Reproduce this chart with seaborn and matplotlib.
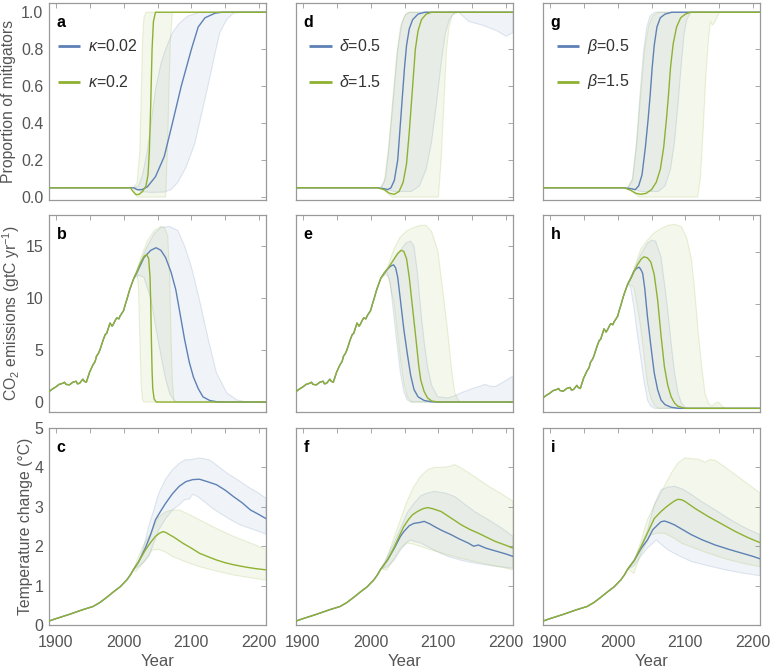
import numpy as np
import pandas as pd
import seaborn as sns
import matplotlib.pyplot as plt
from matplotlib.lines import Line2D
from matplotlib.ticker import MultipleLocator

BLUE = '#5e81b5'
GREEN = '#8fb131'

# shared history (year, value)
hist_prop = [(1890, 0.05), (2008, 0.05)]
hist_emis = [(1890, 1.0), (1895, 1.25), (1900, 1.45), (1905, 1.7), (1910, 1.8), (1913, 1.9),
             (1915, 1.7), (1920, 1.65), (1923, 1.8), (1925, 1.9), (1930, 2.0), (1932, 1.75),
             (1935, 1.8), (1940, 2.2), (1942, 2.0), (1945, 1.9), (1947, 2.3), (1950, 2.9),
             (1955, 3.6), (1958, 3.9), (1960, 4.4), (1963, 4.7), (1965, 5.0), (1968, 5.6),
             (1970, 6.0), (1973, 6.5), (1975, 6.6), (1977, 7.0), (1980, 7.6), (1983, 7.3),
             (1985, 7.5), (1988, 7.9), (1990, 8.1), (1993, 8.0), (1995, 8.3), (2000, 8.8),
             (2003, 9.5), (2005, 9.9), (2008, 10.6), (2010, 11.0)]
hist_temp = [(1890, 0.1), (1900, 0.16), (1920, 0.27), (1940, 0.39), (1955, 0.47),
             (1965, 0.57), (1975, 0.7), (1985, 0.84), (1995, 0.97), (2005, 1.15), (2010, 1.27)]

# panel a: proportion of mitigators, kappa
a_blue = [(2015, 0.05), (2020, 0.04), (2027, 0.04), (2035, 0.055), (2047, 0.11), (2060, 0.22),
          (2072, 0.4), (2085, 0.6), (2100, 0.8), (2110, 0.92), (2120, 0.97), (2135, 0.995), (2145, 1.0), (2210, 1.0)]
a_blue_hi = [(2015, 0.05), (2022, 0.06), (2028, 0.12), (2035, 0.25), (2047, 0.58), (2055, 0.72),
             (2062, 0.8), (2072, 0.89), (2082, 0.94), (2095, 0.98), (2112, 1.0), (2210, 1.0)]
a_blue_lo = [(2015, 0.05), (2025, 0.03), (2040, 0.025), (2060, 0.027), (2070, 0.04), (2080, 0.08),
             (2092, 0.16), (2105, 0.29), (2115, 0.45), (2125, 0.61), (2135, 0.78), (2142, 0.89),
             (2152, 0.96), (2162, 0.995), (2175, 1.0), (2210, 1.0)]
a_green = [(2010, 0.05), (2014, 0.03), (2018, 0.013), (2023, 0.015), (2028, 0.03), (2033, 0.06),
           (2036, 0.12), (2038, 0.25), (2040, 0.5), (2042, 0.8), (2044, 0.95), (2047, 1.0), (2210, 1.0)]
a_green_hi = [(2015, 0.05), (2020, 0.08), (2024, 0.25), (2026, 0.55), (2028, 0.85), (2030, 0.97),
              (2033, 1.0), (2210, 1.0)]
a_green_lo = [(2015, 0.04), (2020, 0.0), (2062, 0.0), (2065, 0.3), (2067, 0.6), (2069, 0.85),
              (2072, 1.0), (2210, 1.0)]

# panel b: emissions, kappa
b_blue = [(2015, 11.9), (2020, 12.5), (2025, 13.2), (2030, 13.9), (2040, 14.6), (2048, 14.85),
          (2055, 14.6), (2062, 13.9), (2070, 12.5), (2077, 10.8), (2083, 8.6), (2090, 6.0),
          (2097, 3.8), (2103, 2.4), (2110, 1.3), (2117, 0.5), (2127, 0.15), (2137, 0.03), (2150, 0.0), (2210, 0.0)]
b_blue_hi = [(2015, 11.9), (2025, 13.5), (2035, 15.0), (2045, 16.2), (2055, 16.8), (2068, 16.9),
             (2080, 16.5), (2090, 15.0), (2100, 13.0), (2112, 9.8), (2125, 6.0), (2137, 2.8),
             (2152, 0.9), (2167, 0.2), (2182, 0.0), (2210, 0.0)]
b_blue_lo = [(2015, 11.9), (2022, 12.2), (2030, 12.0), (2040, 10.0), (2048, 7.0), (2055, 4.5),
             (2062, 2.2), (2068, 0.8), (2075, 0.1), (2082, 0.0), (2210, 0.0)]
b_green = [(2015, 11.9), (2020, 12.6), (2025, 13.4), (2030, 14.0), (2034, 14.2), (2037, 13.8),
           (2039, 12.0), (2040, 9.5), (2041, 6.0), (2042, 3.0), (2043, 1.3), (2045, 0.3), (2048, 0.0), (2210, 0.0)]
b_green_hi = [(2015, 11.9), (2025, 13.8), (2035, 15.5), (2045, 16.5), (2055, 16.9), (2060, 16.8),
              (2065, 16.0), (2068, 12.0), (2070, 6.0), (2072, 2.0), (2074, 0.3), (2076, 0.0), (2210, 0.0)]
b_green_lo = [(2015, 11.9), (2020, 12.3), (2022, 11.0), (2024, 6.0), (2026, 1.5), (2028, 0.2),
              (2030, 0.0), (2210, 0.0)]

# panel c: temperature, kappa
c_blue = [(2015, 1.42), (2022, 1.6), (2032, 1.95), (2040, 2.3), (2047, 2.67), (2055, 2.9), (2062, 3.09),
          (2072, 3.33), (2082, 3.52), (2092, 3.64), (2102, 3.69), (2112, 3.7), (2125, 3.63), (2137, 3.56),
          (2150, 3.42), (2162, 3.26), (2175, 3.1), (2187, 2.92), (2200, 2.8), (2210, 2.7)]
c_blue_hi = [(2015, 1.42), (2022, 1.57), (2030, 2.0), (2037, 2.5), (2045, 2.95), (2052, 3.35), (2062, 3.7),
             (2072, 3.94), (2082, 4.1), (2090, 4.19), (2100, 4.2), (2112, 4.24), (2127, 4.19), (2140, 4.02),
             (2152, 3.86), (2167, 3.7), (2182, 3.52), (2197, 3.37), (2210, 3.22)]
c_blue_lo = [(2015, 1.42), (2022, 1.48), (2030, 1.6), (2037, 1.74), (2045, 2.1), (2052, 2.42), (2062, 2.7),
             (2072, 2.92), (2082, 3.05), (2090, 3.18), (2097, 3.2), (2102, 3.32), (2110, 3.25), (2122, 3.09),
             (2132, 2.95), (2142, 2.84), (2157, 2.68), (2172, 2.54), (2192, 2.42), (2210, 2.31)]
c_green = [(2015, 1.42), (2022, 1.6), (2032, 1.9), (2040, 2.1), (2047, 2.25), (2053, 2.33), (2058, 2.37),
           (2062, 2.35), (2075, 2.22), (2087, 2.08), (2100, 1.95), (2112, 1.82), (2125, 1.73), (2137, 1.65),
           (2150, 1.58), (2162, 1.53), (2180, 1.47), (2195, 1.43), (2210, 1.4)]
c_green_hi = [(2015, 1.42), (2022, 1.74), (2030, 2.05), (2037, 2.25), (2045, 2.5), (2052, 2.75), (2062, 2.87),
              (2072, 2.92), (2082, 2.92), (2095, 2.82), (2112, 2.67), (2137, 2.45), (2162, 2.25),
              (2187, 2.08), (2210, 1.92)]
c_green_lo = [(2015, 1.4), (2018, 1.36), (2030, 1.6), (2042, 1.9), (2052, 1.92), (2062, 1.85), (2072, 1.74),
              (2092, 1.6), (2112, 1.48), (2137, 1.37), (2162, 1.27), (2187, 1.2), (2210, 1.14)]

# panel d: proportion, delta
d_blue = [(2010, 0.05), (2020, 0.045), (2025, 0.04), (2030, 0.05), (2035, 0.09), (2040, 0.2), (2044, 0.4),
          (2047, 0.55), (2050, 0.7), (2053, 0.82), (2057, 0.91), (2062, 0.96), (2070, 0.99), (2080, 1.0), (2210, 1.0)]
d_blue_hi = [(2015, 0.05), (2022, 0.1), (2028, 0.3), (2034, 0.55), (2040, 0.8), (2046, 0.94),
             (2052, 0.99), (2058, 1.0), (2210, 1.0)]
d_blue_lo = [(2015, 0.05), (2025, 0.04), (2035, 0.03), (2060, 0.03), (2072, 0.06), (2082, 0.15),
             (2090, 0.3), (2097, 0.5), (2104, 0.72), (2110, 0.88), (2116, 0.96), (2122, 0.99), (2130, 1.0),
             (2145, 0.95), (2165, 0.93), (2186, 0.9), (2200, 0.87), (2210, 0.89)]
d_green = [(2010, 0.05), (2020, 0.04), (2028, 0.02), (2035, 0.015), (2042, 0.03), (2048, 0.08), (2053, 0.18),
           (2057, 0.35), (2060, 0.5), (2063, 0.65), (2066, 0.8), (2070, 0.9), (2075, 0.96), (2082, 0.99),
           (2090, 1.0), (2210, 1.0)]
d_green_hi = [(2015, 0.05), (2020, 0.08), (2026, 0.25), (2032, 0.5), (2038, 0.75), (2044, 0.92),
              (2050, 0.98), (2056, 1.0), (2210, 1.0)]
d_green_lo = [(2015, 0.05), (2025, 0.02), (2032, 0.0), (2100, 0.0), (2104, 0.2), (2108, 0.5),
              (2112, 0.8), (2116, 0.93), (2120, 0.98), (2125, 1.0), (2210, 1.0)]

# panel e: emissions, delta
e_blue = [(2015, 11.9), (2020, 12.4), (2025, 12.8), (2030, 13.1), (2034, 13.2), (2037, 12.9), (2040, 12.0),
          (2044, 9.8), (2049, 7.0), (2054, 4.7), (2059, 2.6), (2064, 1.2), (2070, 0.5), (2079, 0.15),
          (2090, 0.02), (2100, 0.0), (2210, 0.0)]
e_blue_hi = [(2015, 11.9), (2025, 12.8), (2035, 13.8), (2044, 14.6), (2052, 15.3), (2059, 15.5),
             (2064, 15.0), (2069, 12.5), (2074, 8.8), (2079, 5.8), (2084, 3.4), (2090, 1.6), (2099, 0.5),
             (2114, 0.4), (2124, 0.6), (2134, 0.9), (2150, 1.3), (2160, 1.5), (2169, 1.7), (2177, 1.5),
             (2184, 1.5), (2195, 1.9), (2210, 2.5)]
e_blue_lo = [(2015, 11.9), (2024, 12.5), (2029, 11.4), (2034, 8.5), (2039, 5.5), (2044, 2.8),
             (2049, 1.0), (2054, 0.2), (2060, 0.0), (2210, 0.0)]
e_green = [(2015, 11.9), (2020, 12.4), (2025, 12.8), (2030, 13.3), (2035, 13.8), (2040, 14.3), (2045, 14.6),
           (2049, 14.5), (2053, 13.8), (2057, 12.0), (2062, 9.0), (2067, 6.0), (2071, 3.5), (2074, 2.1),
           (2079, 1.0), (2084, 0.4), (2090, 0.1), (2100, 0.0), (2210, 0.0)]
e_green_hi = [(2015, 11.9), (2025, 13.0), (2035, 14.8), (2044, 15.9), (2054, 16.5), (2064, 16.8),
              (2074, 17.0), (2082, 17.0), (2090, 16.4), (2099, 14.6), (2106, 11.0), (2114, 6.6),
              (2120, 2.8), (2124, 0.9), (2130, 0.1), (2135, 0.0), (2210, 0.0)]
e_green_lo = [(2015, 11.9), (2022, 12.3), (2027, 12.0), (2031, 10.5), (2034, 9.8), (2039, 7.0),
              (2044, 4.1), (2049, 1.8), (2054, 0.5), (2060, 0.0), (2210, 0.0)]

# panel f: temperature, delta
f_blue = [(2015, 1.42), (2025, 1.65), (2035, 1.95), (2044, 2.25), (2049, 2.37), (2057, 2.52), (2064, 2.58),
          (2072, 2.6), (2079, 2.63), (2087, 2.57), (2094, 2.5), (2105, 2.4), (2119, 2.29), (2130, 2.19),
          (2144, 2.08), (2152, 2.0), (2159, 2.03), (2170, 1.95), (2184, 1.88), (2200, 1.8), (2210, 1.74)]
f_blue_hi = [(2015, 1.42), (2025, 1.75), (2035, 2.1), (2044, 2.45), (2054, 2.85), (2064, 3.09), (2074, 3.28),
             (2084, 3.35), (2094, 3.39), (2110, 3.35), (2124, 3.26), (2140, 3.05), (2155, 2.86),
             (2174, 2.67), (2194, 2.45), (2210, 2.25)]
f_blue_lo = [(2015, 1.42), (2025, 1.48), (2035, 1.65), (2044, 1.9), (2052, 2.08), (2059, 2.16), (2065, 2.12),
             (2074, 2.08), (2094, 1.9), (2114, 1.74), (2134, 1.64), (2154, 1.57), (2180, 1.5), (2210, 1.44)]
f_green = [(2015, 1.42), (2025, 1.65), (2035, 1.98), (2044, 2.32), (2049, 2.5), (2056, 2.68), (2062, 2.8),
           (2069, 2.88), (2077, 2.95), (2084, 2.98), (2092, 2.95), (2104, 2.88), (2119, 2.71), (2134, 2.54),
           (2147, 2.42), (2159, 2.33), (2172, 2.22), (2184, 2.12), (2200, 2.02), (2210, 1.95)]
f_green_hi = [(2015, 1.42), (2019, 1.45), (2030, 2.0), (2044, 2.67), (2054, 3.15), (2064, 3.52), (2074, 3.78),
              (2084, 3.94), (2094, 4.0), (2105, 4.0), (2115, 4.02), (2124, 4.07), (2134, 3.98), (2154, 3.76),
              (2174, 3.52), (2194, 3.32), (2210, 3.14)]
f_green_lo = [(2015, 1.42), (2024, 1.4), (2035, 1.7), (2044, 1.95), (2054, 2.08), (2064, 2.05), (2074, 1.99),
              (2094, 1.88), (2114, 1.78), (2134, 1.69), (2154, 1.61), (2184, 1.5), (2210, 1.4)]

# panel g: proportion, beta
g_blue = [(2010, 0.05), (2020, 0.045), (2026, 0.04), (2031, 0.06), (2036, 0.12), (2041, 0.27), (2045, 0.42),
          (2048, 0.55), (2051, 0.7), (2054, 0.82), (2058, 0.92), (2063, 0.97), (2070, 0.99), (2080, 1.0), (2210, 1.0)]
g_blue_hi = [(2015, 0.05), (2022, 0.1), (2028, 0.3), (2033, 0.55), (2038, 0.78), (2043, 0.92),
             (2048, 0.98), (2055, 1.0), (2210, 1.0)]
g_blue_lo = [(2015, 0.05), (2025, 0.04), (2035, 0.03), (2060, 0.03), (2070, 0.06), (2078, 0.15),
             (2084, 0.3), (2089, 0.5), (2094, 0.72), (2098, 0.88), (2102, 0.96), (2108, 1.0), (2210, 1.0)]
g_green = [(2010, 0.05), (2020, 0.035), (2027, 0.02), (2034, 0.015), (2042, 0.02), (2050, 0.04), (2057, 0.08),
           (2063, 0.15), (2068, 0.27), (2072, 0.42), (2075, 0.55), (2078, 0.7), (2082, 0.83), (2087, 0.92),
           (2093, 0.97), (2100, 0.99), (2108, 1.0), (2210, 1.0)]
g_green_hi = [(2015, 0.05), (2022, 0.09), (2028, 0.28), (2034, 0.55), (2040, 0.8), (2046, 0.93),
              (2052, 0.98), (2060, 1.0), (2210, 1.0)]
g_green_lo = [(2015, 0.05), (2025, 0.02), (2032, 0.0), (2118, 0.0), (2122, 0.1), (2126, 0.35),
              (2130, 0.65), (2134, 0.85), (2137, 0.95), (2140, 0.93), (2144, 0.95), (2150, 1.0), (2210, 1.0)]

# panel h: emissions, beta
h_blue = [(2015, 11.9), (2020, 12.5), (2024, 13.1), (2028, 13.4), (2032, 13.5), (2035, 13.2), (2037, 12.9),
          (2040, 11.5), (2044, 8.8), (2049, 6.0), (2054, 3.4), (2059, 1.8), (2064, 0.8), (2070, 0.35),
          (2079, 0.1), (2090, 0.0), (2210, 0.0)]
h_blue_hi = [(2015, 11.9), (2024, 13.2), (2034, 14.7), (2044, 15.8), (2050, 16.1), (2056, 16.0), (2064, 14.5),
             (2069, 12.0), (2074, 9.4), (2079, 6.2), (2084, 3.4), (2089, 1.5), (2094, 0.5), (2100, 0.1),
             (2105, 0.0), (2210, 0.0)]
h_blue_lo = [(2015, 11.9), (2019, 11.6), (2024, 9.7), (2029, 7.2), (2034, 4.9), (2039, 2.6), (2044, 0.8),
             (2049, 0.2), (2055, 0.0), (2210, 0.0)]
h_green = [(2015, 11.9), (2020, 12.5), (2025, 13.2), (2030, 13.8), (2035, 14.3), (2039, 14.5), (2044, 14.4),
           (2049, 14.0), (2054, 12.8), (2059, 10.4), (2064, 7.0), (2069, 4.0), (2074, 2.2), (2079, 1.1),
           (2084, 0.5), (2089, 0.2), (2100, 0.0), (2210, 0.0)]
h_green_hi = [(2015, 11.9), (2024, 13.3), (2034, 15.2), (2044, 16.1), (2054, 16.8), (2064, 17.2), (2074, 17.5),
              (2084, 17.6), (2094, 17.4), (2102, 16.3), (2109, 14.2), (2114, 11.0), (2119, 7.2), (2124, 4.0),
              (2129, 1.4), (2134, 0.5), (2139, 0.2), (2144, 0.5), (2149, 0.6), (2154, 0.2), (2160, 0.0), (2210, 0.0)]
h_green_lo = [(2015, 11.9), (2019, 11.8), (2024, 11.6), (2029, 9.8), (2034, 7.8), (2039, 5.0), (2044, 2.4),
              (2049, 1.0), (2054, 0.3), (2060, 0.0), (2210, 0.0)]

# panel i: temperature, beta
i_blue = [(2015, 1.42), (2025, 1.65), (2035, 1.95), (2044, 2.16), (2052, 2.42), (2059, 2.54), (2064, 2.62),
          (2069, 2.64), (2076, 2.6), (2084, 2.54), (2096, 2.42), (2109, 2.29), (2125, 2.16), (2144, 2.03),
          (2164, 1.92), (2184, 1.82), (2200, 1.74), (2210, 1.68)]
i_blue_hi = [(2015, 1.42), (2024, 1.65), (2034, 2.0), (2044, 2.4), (2054, 3.05), (2064, 3.43), (2074, 3.5),
             (2084, 3.52), (2096, 3.45), (2109, 3.31), (2125, 3.12), (2144, 2.92), (2164, 2.7), (2184, 2.5),
             (2210, 2.29)]
i_blue_lo = [(2015, 1.42), (2024, 1.5), (2034, 1.74), (2044, 1.95), (2052, 2.08), (2057, 2.16), (2064, 2.05),
             (2074, 1.91), (2090, 1.76), (2109, 1.61), (2134, 1.5), (2159, 1.4), (2184, 1.32), (2210, 1.25)]
i_green = [(2015, 1.42), (2025, 1.65), (2035, 2.0), (2044, 2.33), (2054, 2.7), (2064, 2.88), (2072, 3.0),
           (2079, 3.09), (2084, 3.15), (2089, 3.19), (2094, 3.18), (2099, 3.14), (2115, 2.95), (2134, 2.75),
           (2154, 2.56), (2174, 2.37), (2192, 2.22), (2210, 2.09)]
i_green_hi = [(2015, 1.42), (2024, 1.6), (2034, 2.1), (2044, 2.67), (2056, 3.1), (2069, 3.52), (2079, 3.85),
              (2089, 4.11), (2099, 4.24), (2109, 4.22), (2119, 4.21), (2129, 4.13), (2136, 4.2), (2144, 4.18),
              (2159, 4.0), (2174, 3.81), (2192, 3.58), (2210, 3.35)]
i_green_lo = [(2015, 1.42), (2024, 1.31), (2034, 1.8), (2049, 2.29), (2059, 2.33), (2069, 2.33), (2084, 2.2),
              (2094, 2.08), (2114, 1.95), (2134, 1.82), (2159, 1.68), (2184, 1.57), (2210, 1.48)]

legend_labels = {
    'a': [r'$\kappa$=0.02', r'$\kappa$=0.2'],
    'd': [r'$\delta$=0.5', r'$\delta$=1.5'],
    'g': [r'$\beta$=0.5', r'$\beta$=1.5'],
}
legend_x = {'a': 0.04, 'd': 0.06, 'g': 0.063}
ylabels = ['Proportion of mitigators', r'CO$_2$ emissions (gtC yr$^{-1}$)', 'Temperature change (°C)']
ylabel_x = [-0.152, -0.124, -0.074]
ylims = [(-0.016, 1.05), (-0.96, 18.0), (0, 5)]

TXT = '#555555'


def band(ax, hi, lo, color):
    xs = [p[0] for p in hi] + [p[0] for p in lo[::-1]]
    ys = [p[1] for p in hi] + [p[1] for p in lo[::-1]]
    ax.fill(xs, ys, facecolor=color, alpha=0.09, edgecolor='none', zorder=1)
    ax.fill(xs, ys, facecolor='none', edgecolor=color, alpha=0.18, lw=0.8, zorder=1)


def line(ax, hist, fut, color):
    df = pd.DataFrame(hist + fut, columns=['Year', 'value'])
    sns.lineplot(data=df, x='Year', y='value', ax=ax, color=color, linewidth=1.0,
                 estimator=None, sort=False, zorder=3)


sns.set_theme(style='white')
plt.rcParams['font.family'] = ['Liberation Sans', 'DejaVu Sans']
plt.rcParams['mathtext.fontset'] = 'custom'
plt.rcParams['mathtext.rm'] = 'Liberation Sans'
plt.rcParams['mathtext.it'] = 'Liberation Sans:italic'
plt.rcParams['mathtext.bf'] = 'Liberation Sans:bold'

fig, axes = plt.subplots(3, 3, figsize=(7.72, 6.68), dpi=100)

panels = [
    ['a', 'd', 'g'],
    ['b', 'e', 'h'],
    ['c', 'f', 'i'],
]
data = {
    'a': (hist_prop, a_blue, a_blue_hi, a_blue_lo, a_green, a_green_hi, a_green_lo),
    'b': (hist_emis, b_blue, b_blue_hi, b_blue_lo, b_green, b_green_hi, b_green_lo),
    'c': (hist_temp, c_blue, c_blue_hi, c_blue_lo, c_green, c_green_hi, c_green_lo),
    'd': (hist_prop, d_blue, d_blue_hi, d_blue_lo, d_green, d_green_hi, d_green_lo),
    'e': (hist_emis, e_blue, e_blue_hi, e_blue_lo, e_green, e_green_hi, e_green_lo),
    'f': (hist_temp, f_blue, f_blue_hi, f_blue_lo, f_green, f_green_hi, f_green_lo),
    'g': (hist_prop, g_blue, g_blue_hi, g_blue_lo, g_green, g_green_hi, g_green_lo),
    'h': (hist_emis, h_blue, h_blue_hi, h_blue_lo, h_green, h_green_hi, h_green_lo),
    'i': (hist_temp, i_blue, i_blue_hi, i_blue_lo, i_green, i_green_hi, i_green_lo),
}

col_left = [49, 296, 543]
row_top = [3, 215, 428]
W, H = 772, 668

for r in range(3):
    for c in range(3):
        ax = axes[r, c]
        key = panels[r][c]
        ax.set_position([col_left[c] / W, 1 - (row_top[r] + 197) / H, 217 / W, 197 / H])
        hist, bl, bl_hi, bl_lo, gr, gr_hi, gr_lo = data[key]
        band(ax, bl_hi, bl_lo, BLUE)
        band(ax, gr_hi, gr_lo, GREEN)
        line(ax, hist, bl, BLUE)
        line(ax, hist, gr, GREEN)

        ax.set_xlim(1890, 2210)
        ylo, yhi = ylims[r]
        if key == 'h':
            ylo, yhi = -0.35, 18.5
        ax.set_ylim(ylo, yhi)
        ax.xaxis.set_major_locator(MultipleLocator(100))
        ax.xaxis.set_minor_locator(MultipleLocator(50))
        if r == 0:
            ax.yaxis.set_major_locator(MultipleLocator(0.2))
            ax.yaxis.set_major_formatter(plt.FormatStrFormatter('%.1f'))
        elif r == 1:
            ax.yaxis.set_major_locator(MultipleLocator(5))
        else:
            ax.yaxis.set_major_locator(MultipleLocator(1))
        ax.tick_params(which='both', direction='in', top=True, right=True, length=3.5,
                       width=0.6, color='#999999', labelcolor=TXT, labelsize=11.5)
        ax.tick_params(axis='y', pad=4)
        ax.tick_params(axis='x', pad=7)
        for s in ax.spines.values():
            s.set_color('#999999')
            s.set_linewidth(0.9)

        if c == 0:
            ax.set_ylabel(ylabels[r], fontsize=11.3, color=TXT)
            ax.yaxis.set_label_coords(ylabel_x[r], 0.5)
        else:
            ax.set_ylabel('')
            ax.tick_params(labelleft=False)
        if r == 2:
            ax.set_xlabel('Year', fontsize=12, color=TXT, labelpad=3)
        else:
            ax.set_xlabel('')
            ax.tick_params(labelbottom=False)

        ax.text(0.035, 0.9, key, transform=ax.transAxes, fontsize=11.5, fontweight='bold',
                color='black', va='center', ha='left')

        if key in legend_labels:
            x0 = legend_x[key]
            for yy, col, lab in zip([0.78, 0.60], [BLUE, GREEN], legend_labels[key]):
                ax.add_line(Line2D([x0, x0 + 0.105], [yy, yy], transform=ax.transAxes,
                                   color=col, lw=2, solid_capstyle='butt'))
                ax.text(x0 + 0.14, yy, lab, transform=ax.transAxes, fontsize=11.5,
                        color='#333333', va='center', ha='left')

fig.savefig('out.png', dpi=100)
